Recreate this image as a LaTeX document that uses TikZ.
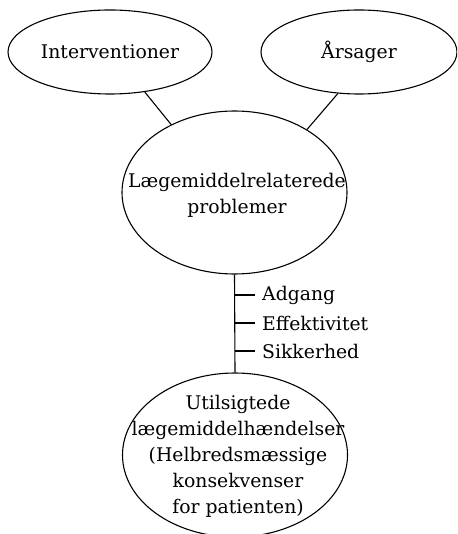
\documentclass[tikz,border=0pt]{standalone}
\usepackage{fontspec}
\setmainfont{DejaVu Serif}
\usetikzlibrary{shapes.geometric}
\begin{document}
\begin{tikzpicture}[x=1pt,y=-1pt,
  ell/.style={draw,ellipse,inner sep=0pt,line width=1.1pt},
  txt/.style={align=center,inner sep=0pt,font=\fontsize{18.8}{26}\selectfont},
  lbl/.style={anchor=west,inner xsep=7pt,inner ysep=0pt,font=\fontsize{18.8}{22}\selectfont},
  conn/.style={line width=1.1pt}]
\useasboundingbox (0,0) rectangle (457,534);
\begin{scope}
\clip (0,0) rectangle (457,534);
\node[ell,minimum width=204,minimum height=84] (i) at (110,52) {};
\node[txt] (it) at (i.center) {Interventioner};
\node[ell,minimum width=196,minimum height=84] (a) at (359,52) {};
\node[txt] (at) at (a.center) {Årsager};
\node[ell,minimum width=225,minimum height=163] (c) at (234.5,192.5) {};
\node[txt] (ct) at (237,195) {Lægemiddelrelaterede\\problemer};
\node[ell,minimum width=225,minimum height=164] (u) at (235,455) {};
\node[txt] (ut) at (238,456) {Utilsigtede\\lægemiddelhændelser\\(Helbredsmæssige\\konsekvenser\\for patienten)};
\draw[conn] (i.-49) -- (c.133);
\draw[conn] (a.-117) -- (c.41);
\draw[conn] (c.south) -- (u.north);
\coordinate (t1) at (c.south |- 0,295);
\coordinate (t2) at (c.south |- 0,323);
\coordinate (t3) at (c.south |- 0,351);
\node[lbl] (l1) at (255,295) {Adgang};
\node[lbl] (l2) at (255,323) {Effektivitet};
\node[lbl] (l3) at (255,351) {Sikkerhed};
\draw[conn] (t1) -- (l1.west);
\draw[conn] (t2) -- (l2.west);
\draw[conn] (t3) -- (l3.west);
\end{scope}
\end{tikzpicture}
\end{document}
